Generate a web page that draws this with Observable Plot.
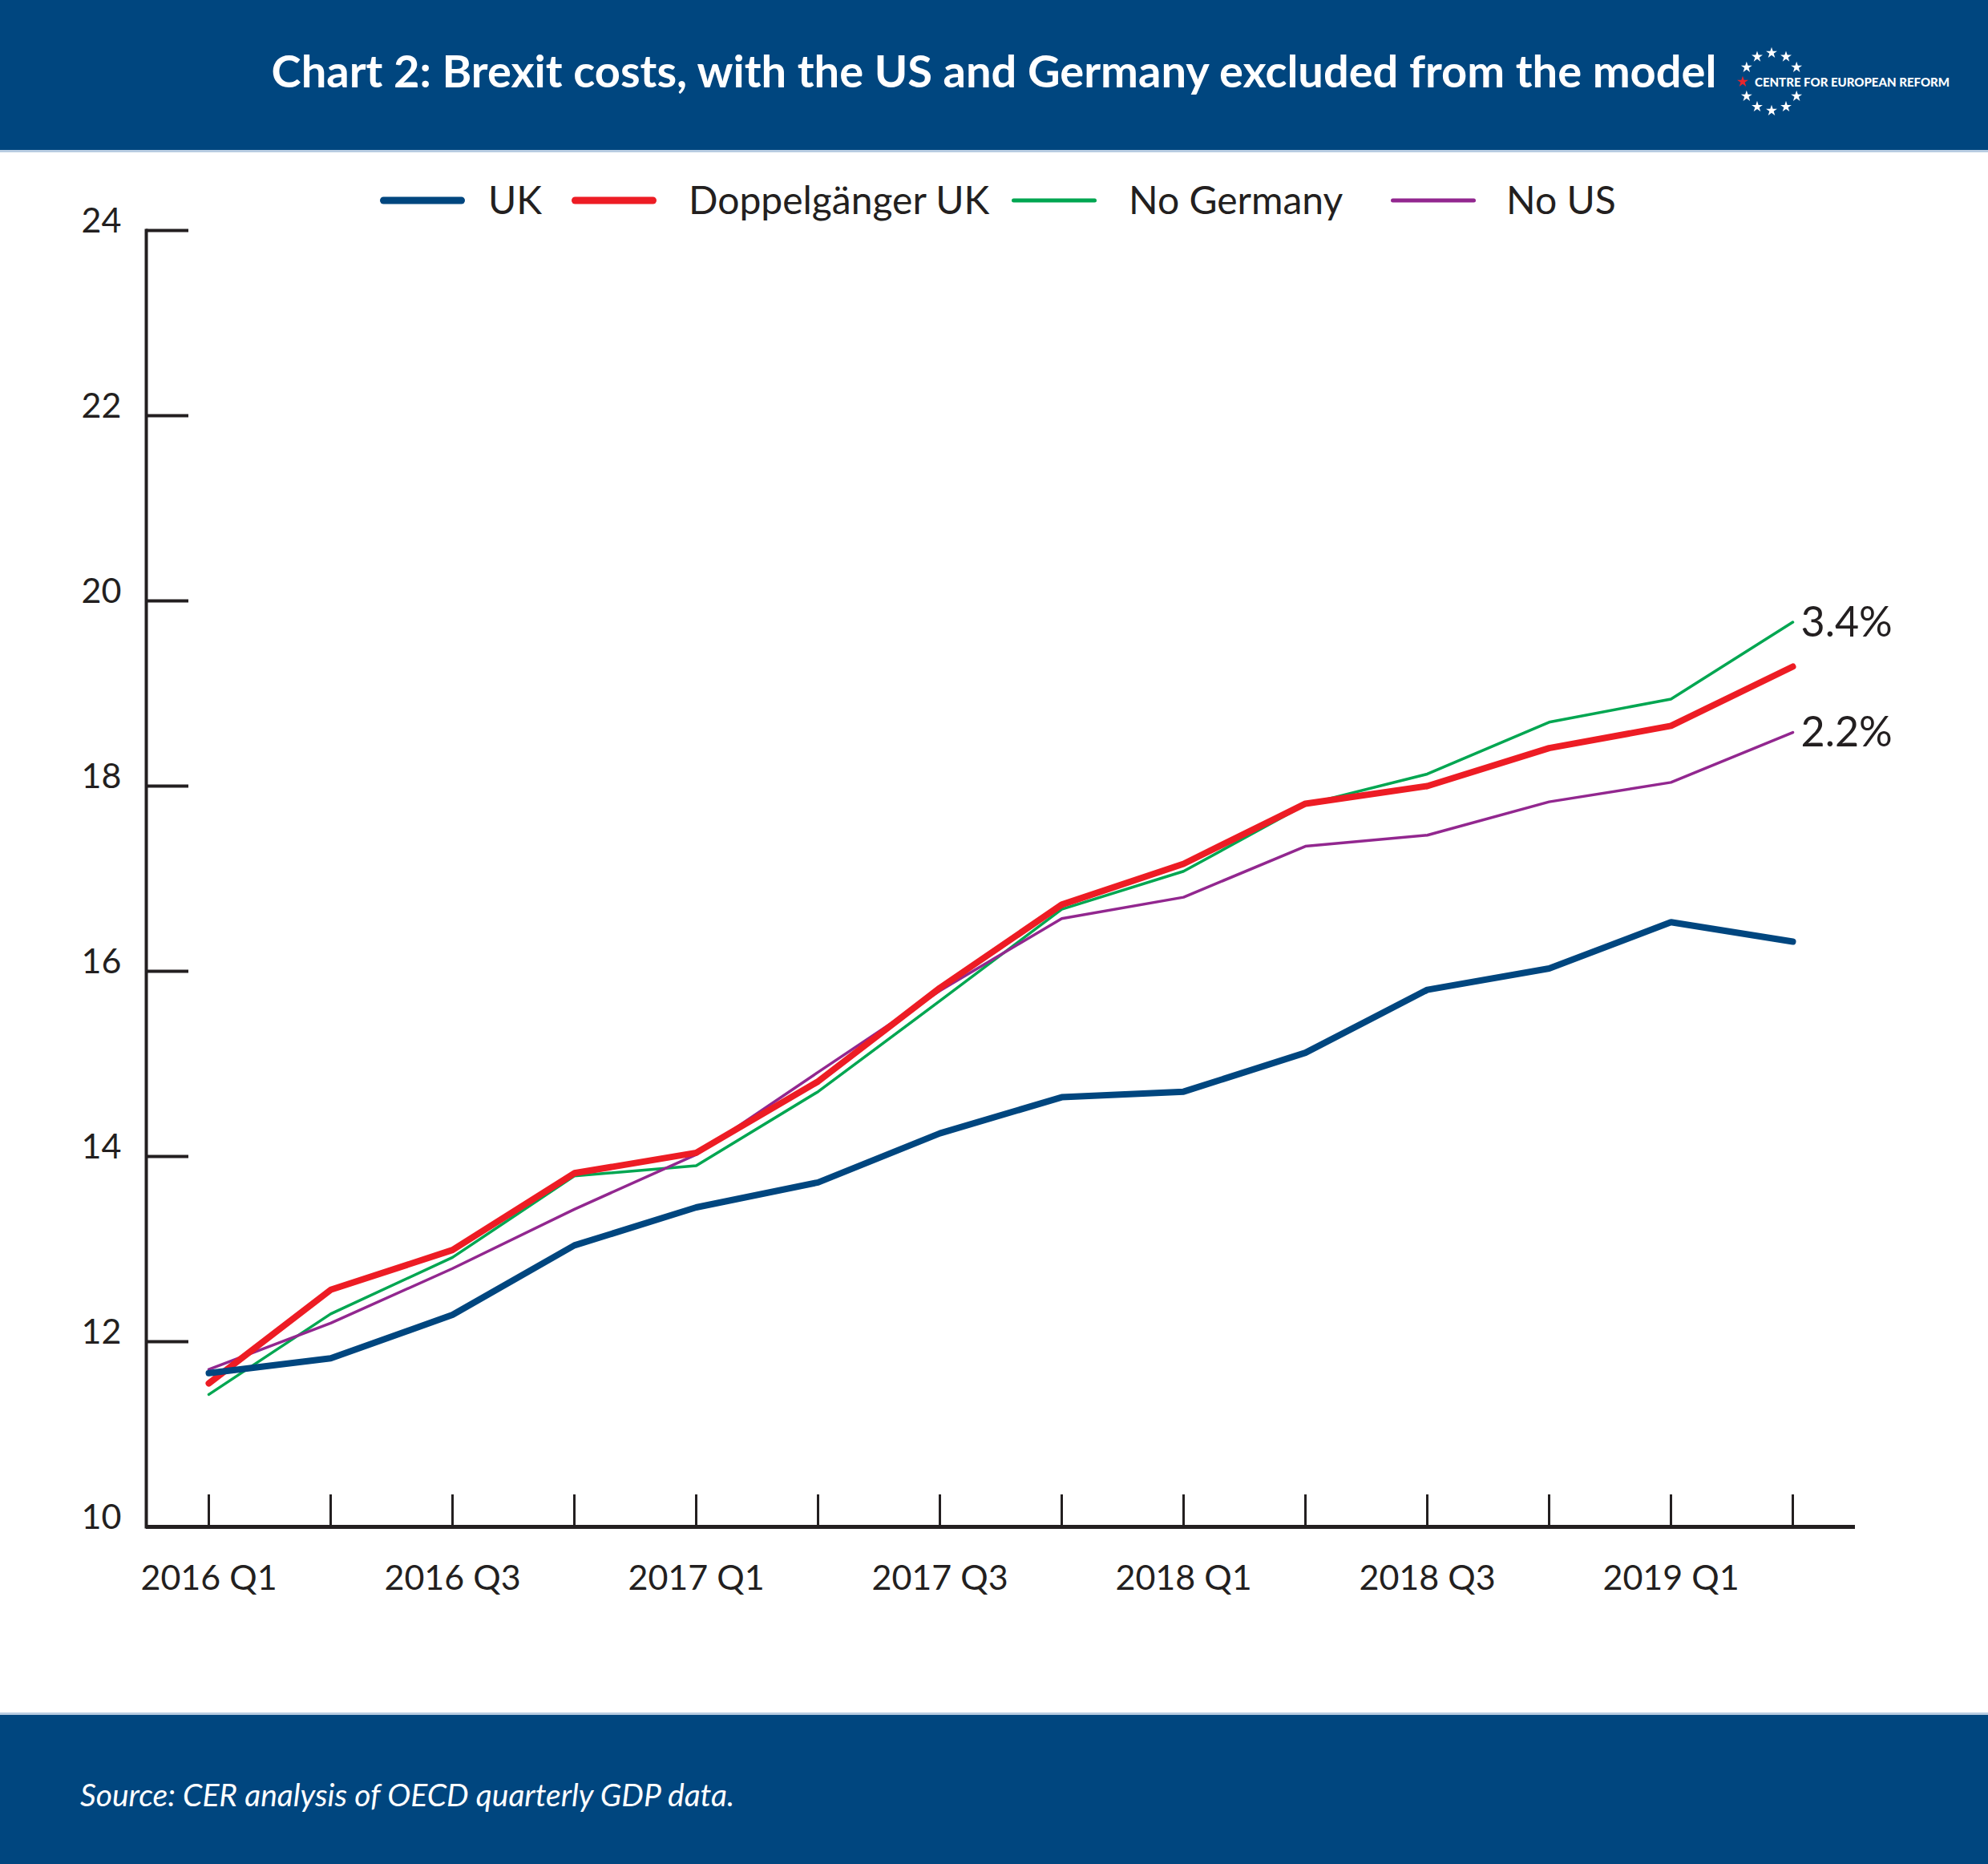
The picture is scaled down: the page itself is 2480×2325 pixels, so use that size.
<!DOCTYPE html>
<html>
<head>
<meta charset="utf-8">
<script src="https://cdn.jsdelivr.net/npm/d3@7"></script>
<script src="https://cdn.jsdelivr.net/npm/@observablehq/plot@0.6"></script>
<style>
  html, body { margin: 0; padding: 0; background: #ffffff; }
  #page { position: relative; width: 2480px; height: 2325px; overflow: hidden; font-family: Lato, "Open Sans", sans-serif; color: #231f20; background: #fff; }
  #header { position: absolute; left: 0; top: 0; width: 2480px; height: 187px; background: #00467f; border-bottom: 3px solid #b9cde2; }
  #title { position: absolute; left: 0; top: 88px; width: 2480px; text-align: center; transform: translateY(-50%); color: #fff; font-weight: 700; font-size: 56px; line-height: 1; white-space: nowrap; }
  #logo { position: absolute; left: 0; top: 0; }
  #chart { position: absolute; left: 0; top: 187px; }
  .leg-sw { position: absolute; top: 250px; border-radius: 5px; transform: translateY(-50%); }
  .leg-tx { position: absolute; top: 250px; transform: translateY(-52%); font-size: 48px; line-height: 1; white-space: nowrap; color: #231f20; }
  #footer { position: absolute; left: 0; top: 2136px; width: 2480px; height: 189px; background: #00467f; border-top: 3px solid #b9cde2; }
  #source { position: absolute; left: 100px; top: 2238px; transform: translateY(-50%); color: #fff; font-style: italic; font-size: 39px; line-height: 1; white-space: nowrap; }
</style>
</head>
<body>
<div id="page">
  <div id="header"></div>
  <div id="title">Chart 2: Brexit costs, with the US and Germany excluded from the model</div>
  <svg id="logo" width="2480" height="187"></svg>
  <div id="chart"></div>
  <div id="legend"></div>
  <div id="footer"></div>
  <div id="source">Source: CER analysis of OECD quarterly GDP data.</div>
</div>
<script>
// ---------- data ----------
const quarters = ["2016 Q1","2016 Q2","2016 Q3","2016 Q4","2017 Q1","2017 Q2","2017 Q3","2017 Q4","2018 Q1","2018 Q2","2018 Q3","2018 Q4","2019 Q1","2019 Q2"];
const ukValues           = [11.66, 11.82, 12.29, 13.04, 13.45, 13.72, 14.25, 14.64, 14.70, 15.12, 15.80, 16.03, 16.53, 16.32];
const doppelgangerValues = [11.55, 12.56, 12.99, 13.82, 14.04, 14.81, 15.82, 16.72, 17.16, 17.81, 18.00, 18.41, 18.65, 19.29];
const noGermanyValues    = [11.43, 12.30, 12.91, 13.79, 13.90, 14.70, 15.68, 16.67, 17.08, 17.80, 18.13, 18.69, 18.94, 19.77];
const noUSValues         = [11.70, 12.20, 12.79, 13.43, 14.02, 14.91, 15.79, 16.57, 16.80, 17.35, 17.47, 17.83, 18.04, 18.58];
const seriesNames = ["UK", "Doppelgänger UK", "No Germany", "No US"];
const yTickValues = [10, 12, 14, 16, 18, 20, 22, 24];
const xTickLabels = ["2016 Q1","2016 Q3","2017 Q1","2017 Q3","2018 Q1","2018 Q3","2019 Q1"];
const endLabelSeries = ["No Germany", "No US"];
const endLabelTexts = ["3.4%", "2.2%"];

// ---------- styles ----------
const seriesColors = ["#00467f", "#ed1c24", "#00a651", "#92278f"];
const seriesWidths = [8, 8, 3.5, 3.5];
const drawOrder = ["No Germany", "No US", "Doppelgänger UK", "UK"];
const ink = "#231f20";

const valuesBySeries = [ukValues, doppelgangerValues, noGermanyValues, noUSValues];
const rows = seriesNames.flatMap((s, i) => quarters.map((q, j) => ({series: s, quarter: q, value: valuesBySeries[i][j]})));
const endRows = endLabelSeries.map((s, i) => {
  const r = rows.find(d => d.series === s && d.quarter === quarters[quarters.length - 1]);
  return {...r, label: endLabelTexts[i]};
});

const lineMarks = drawOrder.map(s => {
  const i = seriesNames.indexOf(s);
  return Plot.line(rows.filter(d => d.series === s), {
    x: "quarter", y: "value",
    stroke: seriesColors[i], strokeWidth: seriesWidths[i],
    strokeLinecap: "round", strokeLinejoin: "miter"
  });
});

const chart = Plot.plot({
  width: 2480,
  height: 1949,
  marginLeft: 182,
  marginRight: 166,
  marginTop: 100,
  marginBottom: 232,
  x: {type: "point", domain: quarters, padding: 0.5, label: null},
  y: {domain: [10, 24], label: null},
  style: {background: "transparent", fontFamily: "Lato, 'Open Sans', sans-serif", color: ink, overflow: "visible"},
  marks: [
    Plot.frame({anchor: "left", stroke: ink, strokeWidth: 4}),
    Plot.axisY(yTickValues, {anchor: "left", tickSize: -53, fill: "none", stroke: ink, strokeWidth: 4, label: null}),
    Plot.axisY(yTickValues, {anchor: "left", tickSize: 0, tickPadding: 31, dy: -11, fontSize: 43, fill: ink, label: null, tickFormat: d3.format("d")}),
    Plot.axisX(quarters, {anchor: "bottom", tickSize: -40, fill: "none", stroke: ink, strokeWidth: 3, label: null}),
    Plot.axisX(xTickLabels, {anchor: "bottom", tickSize: 0, tickPadding: 48, fontSize: 43, fill: ink, label: null}),
    Plot.ruleY([10], {stroke: ink, strokeWidth: 5}),
    ...lineMarks,
    Plot.text(endRows, {x: "quarter", y: "value", text: "label", dx: 10, dy: 1, textAnchor: "start", fontSize: 52, fill: ink})
  ]
});
document.getElementById("chart").appendChild(chart);

// ---------- legend (HTML, above the plot) ----------
const legendSwatchLeft = [474, 713, 1262, 1735];
const legendTextLeft = [609, 859, 1408, 1879];
const legendSwatchWidth = 106;
const legendSwatchHeight = [9, 9, 5, 5];
const legend = document.getElementById("legend");
seriesNames.forEach((s, i) => {
  const sw = document.createElement("div");
  sw.className = "leg-sw";
  sw.style.left = legendSwatchLeft[i] + "px";
  sw.style.width = legendSwatchWidth + "px";
  sw.style.height = legendSwatchHeight[i] + "px";
  sw.style.background = seriesColors[i];
  legend.appendChild(sw);
  const tx = document.createElement("div");
  tx.className = "leg-tx";
  tx.style.left = legendTextLeft[i] + "px";
  tx.textContent = s;
  legend.appendChild(tx);
});

// ---------- logo ----------
const logo = d3.select("#logo");
const cx = 2210, cy = 102, r = 36;
const star = d3.symbol(d3.symbolStar, 60)();
d3.range(12).forEach(k => {
  const a = k * Math.PI / 6;
  if (k === 0) return; // position hidden behind the wordmark
  logo.append("path")
    .attr("d", star)
    .attr("transform", `translate(${cx + r * Math.cos(a)},${cy - r * Math.sin(a)})`)
    .attr("fill", k === 6 ? "#e8262d" : "#ffffff");
});
logo.append("text")
  .attr("x", 2189).attr("y", 102)
  .attr("dominant-baseline", "central")
  .attr("fill", "#ffffff")
  .attr("font-family", "Lato, 'Open Sans', sans-serif")
  .attr("font-weight", 900)
  .attr("font-size", 15)
  .text("CENTRE FOR EUROPEAN REFORM");
</script>
</body>
</html>
